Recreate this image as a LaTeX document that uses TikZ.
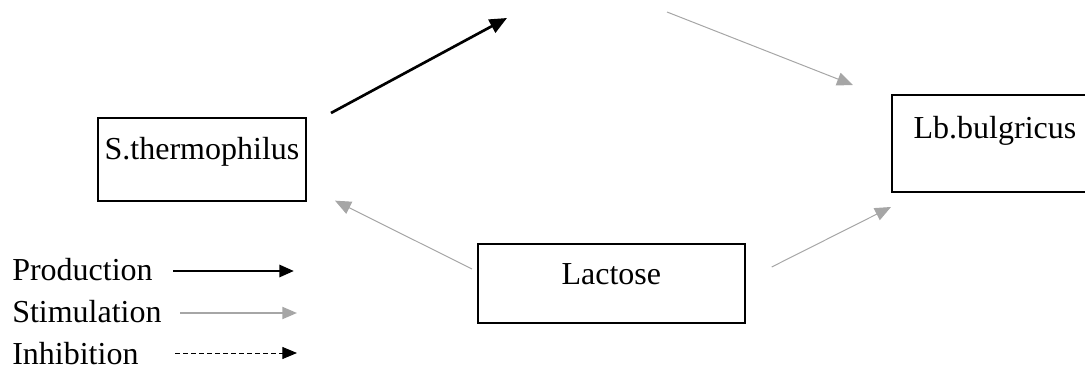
\documentclass[tikz,border=0pt]{standalone}
\usepackage{fontspec}
\setmainfont{Liberation Serif}
\usetikzlibrary{arrows.meta,calc}
\definecolor{stim}{HTML}{A6A6A6}
\begin{document}
\begin{tikzpicture}[x=0.75pt,y=-0.75pt,
  bigtext/.style={font=\fontsize{24}{28}\selectfont},
  box/.style={draw=black, line width=1.5pt, inner sep=0pt, anchor=north west, bigtext},
  lbl/.style={inner sep=0pt, anchor=base west, bigtext},
  prod/.style={line width=2pt, -{Triangle[length=13pt,width=11pt]}},
  stimarrow/.style={draw=stim, line width=0.75pt, -{Triangle[length=12pt,width=10pt,fill=stim]}},
  prodkey/.style={line width=2.2pt, -{Triangle[length=11pt,width=9pt]}},
  stimkey/.style={draw=stim, line width=1.5pt, -{Triangle[length=11pt,width=9pt,fill=stim]}},
  inhkey/.style={line width=0.75pt, dash pattern=on 3.75pt off 2.25pt, -{Triangle[length=11pt,width=9pt]}}
]
\useasboundingbox (0,0) rectangle (1085,370);

% organism and substrate boxes
\node[box, minimum width=156pt, minimum height=62pt, text height=31pt, text depth=31pt] (st) at (97,117) {S.thermophilus};
\node[box, minimum width=154.5pt, minimum height=72.75pt, text height=33pt, text depth=39.75pt] (lb) at (891,94) {Lb.bulgricus};
\node[box, minimum width=200pt, minimum height=59.25pt, text height=30.75pt, text depth=28.5pt] (lac) at (477,243) {Lactose};

% interactions
\coordinate (prodEnd) at (507,18);
\coordinate (stimStart) at (667,12);
\draw[prod] ([shift={(24,-4)}]st.north east) -- (prodEnd);
\draw[stimarrow] (stimStart) -- ([shift={(-38,-9)}]lb.north west);
\draw[stimarrow] ([shift={(-5,26)}]lac.north west) -- ([shift={(28,-1)}]st.south east);
\draw[stimarrow] ([shift={(26,24)}]lac.north east) -- ([shift={(0,14)}]lb.south west);

% key
\node[lbl] (kp) at (12,281) {Production};
\node[lbl] (ks) at (12,322) {Stimulation};
\node[lbl] (ki) at (12,364) {Inhibition};
\coordinate (kpA) at (173,271); \coordinate (kpB) at (294,271);
\coordinate (ksA) at (180,313); \coordinate (ksB) at (297,313);
\coordinate (kiA) at (175,353); \coordinate (kiB) at (297,353);
\draw[prodkey] (kpA) -- (kpB);
\draw[stimkey] (ksA) -- (ksB);
\draw[inhkey] (kiA) -- (kiB);
\end{tikzpicture}
\end{document}
